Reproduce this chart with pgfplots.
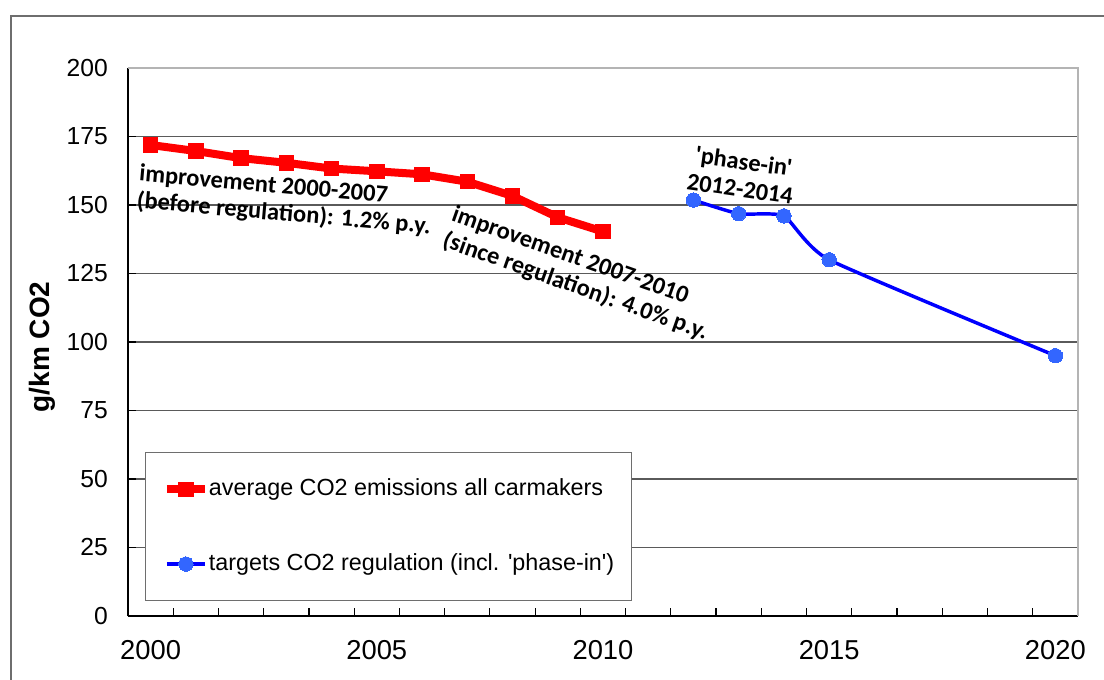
\documentclass[border=0pt]{standalone}
\usepackage{fontspec}
\setmainfont{Liberation Sans}[Ligatures=TeXOff]
\newfontfamily\calibri{Carlito}[Ligatures=TeXOff]
\usepackage{pgfplots}
\pgfplotsset{compat=1.18}
\definecolor{redline}{RGB}{255,0,0}
\definecolor{blueline}{RGB}{0,0,255}
\definecolor{bluemark}{RGB}{51,102,255}
\definecolor{gridgray}{RGB}{90,90,90}
\definecolor{bordergray}{RGB}{180,180,180}
\definecolor{framegray}{RGB}{110,110,110}

\pgfplotstableread{
year value
2000 171.9
2001 169.7
2002 167.1
2003 165.4
2004 163.3
2005 162.3
2006 161.2
2007 158.5
2008 153.3
2009 145.5
2010 140.3
}\avgdata

\pgfplotstableread{
year value
2012 151.8
2013 146.8
2014 146.0
2015 130.0
2020 95.0
}\targetdata

\begin{document}
\begin{tikzpicture}
\useasboundingbox (0,0) rectangle (828pt,509.25pt);
\draw[framegray, line width=1.1pt] (8.25pt,-10pt) -- (8.25pt,497.25pt) -- (840pt,497.25pt);
\begin{axis}[
  at={(96pt,47.25pt)}, anchor=south west,
  scale only axis, width=712.5pt, height=411pt,
  xmin=1999.5, xmax=2020.5, ymin=0, ymax=200,
  clip=false,
  axis lines=left,
  axis line style={-, black, line width=0.9pt},
  tick align=inside,
  major tick length=6pt,
  tick style={black, line width=0.9pt},
  xtick={1999.5,2000.5,...,2020.5},
  xticklabels={},
  extra x ticks={2000,2005,2010,2015,2020},
  extra x tick labels={2000,2005,2010,2015,2020},
  extra x tick style={major tick length=0pt},
  xticklabel style={font=\fontsize{20.5}{24}\selectfont, inner sep=0pt, yshift=-18pt},
  ytick={0,25,...,175},
  extra y ticks={200},
  extra y tick style={grid=none},
  ymajorgrids,
  grid style={gridgray, line width=0.9pt},
  yticklabel style={font=\fontsize{18.5}{21}\selectfont, inner sep=0pt, xshift=-15pt},
  /pgf/number format/assume math mode=true,
  /pgf/number format/1000 sep={},
  ylabel={\bfseries g/km CO2},
  every axis y label/.style={at={(axis description cs:-0.0905,0.491)}, rotate=90, anchor=center, font=\fontsize{21}{24}\selectfont},
  legend image code/.code={\draw[mark repeat=2, mark phase=2, #1] plot coordinates {(0pt,0pt) (14.25pt,0pt) (28.5pt,0pt)};},
  legend cell align=left,
  legend style={at={(axis description cs:0.0179,0.299)}, anchor=north west,
    draw=framegray, line width=0.9pt, fill=white,
    inner xsep=13pt, inner ysep=19pt, row sep=39pt,
    font=\fontsize{17.5}{20}\selectfont,
    nodes={inner sep=0pt, text height=13pt, text depth=4pt, anchor=west}},
]
\draw[bordergray, line width=1.2pt] (rel axis cs:0,1) -- (rel axis cs:1,1) -- (rel axis cs:1,0);
\addplot[redline, line width=6pt, line join=round, mark=square*, mark size=5.4pt,
  mark options={solid, fill=redline, draw=redline, line width=0pt}]
  table[x=year, y=value] {\avgdata};
\addlegendentry{average CO2 emissions all carmakers}
\addplot[blueline, line width=2.6pt, smooth, tension=0.3, mark=*, mark size=5.4pt,
  mark options={solid, fill=bluemark, draw=bluemark, line width=0pt}]
  table[x=year, y=value] {\targetdata};
\addlegendentry{targets CO2 regulation (incl. 'phase-in')}
\node[font=\calibri\bfseries\fontsize{18.3}{20.5}\selectfont, rotate=-5, align=left]
  at (axis cs:2002.97,151.5) {improvement 2000-2007\\(before regulation): 1.2\% p.y.};
\node[font=\calibri\bfseries\fontsize{18.3}{20.5}\selectfont, rotate=-19.5, align=left]
  at (axis cs:2009.49,124.8) {improvement 2007-2010\\(since regulation): 4.0\% p.y.};
\node[font=\calibri\bfseries\fontsize{18.3}{20.5}\selectfont, rotate=-8, align=center]
  at (axis cs:2013.07,161) {'phase-in'\\2012-2014};
\end{axis}
\end{tikzpicture}
\end{document}
